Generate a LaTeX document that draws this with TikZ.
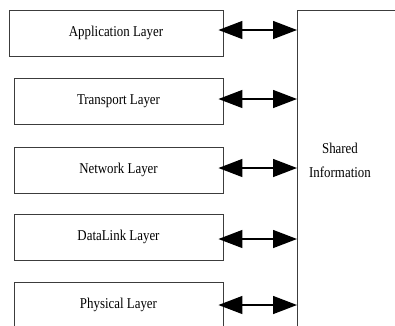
\documentclass[tikz,border=0pt]{standalone}
\usepackage{fontspec}
\setmainfont{Liberation Serif}
\usetikzlibrary{arrows.meta,positioning}
\definecolor{edgeGray}{RGB}{60,60,60}
\newcommand{\narrow}[1]{\scalebox{0.86}[1]{#1}}
\tikzset{
  layer/.style={draw=edgeGray,line width=0.9pt,minimum width=209pt,minimum height=46pt,
    inner sep=0pt,font=\fontsize{15}{17}\selectfont},
  link/.style={{Triangle[length=24pt,width=18pt]}-{Triangle[length=24pt,width=18pt]},
    line width=1.4pt,shorten <=-5pt},
}
\begin{document}
\begin{tikzpicture}[x=1pt,y=-1pt]
  \useasboundingbox (0,0) rectangle (395,325);
  % Layer boxes
  \node[layer,minimum width=214pt] (app) at (116,33) {\narrow{Application Layer}};
  \node[layer] (trans) at (118.5,101) {\narrow{Transport Layer}};
  \node[layer] (net) at (118.5,170) {\narrow{Network Layer}};
  \node[layer] (dlink) at (118.5,237) {\narrow{DataLink Layer}};
  \node[layer,minimum height=90pt,anchor=north] (phys) at (118.5,282) {};
  \node[font=\fontsize{15}{17}\selectfont] (physlbl) at (118.5,305) {\narrow{Physical Layer}};
  % Shared information block
  \coordinate (bus) at (297,10);
  \draw[edgeGray,line width=0.9pt] (395,10) -- (bus) -- (297,340);
  \node[font=\fontsize{15}{24}\selectfont,align=center] (shared) at (340,160)
    {\narrow{Shared}\\\narrow{Information}};
  % Arrows
  \draw[link] ([yshift=3pt]app.east) -- ([yshift=3pt]app.east -| bus);
  \draw[link] ([yshift=2pt]trans.east) -- ([yshift=2pt]trans.east -| bus);
  \draw[link] ([yshift=2pt]net.east) -- ([yshift=2pt]net.east -| bus);
  \draw[link] ([yshift=-2pt]dlink.east) -- ([yshift=-2pt]dlink.east -| bus);
  \draw[link] (physlbl.center -| phys.east) -- (physlbl.center -| bus);
\end{tikzpicture}
\end{document}
